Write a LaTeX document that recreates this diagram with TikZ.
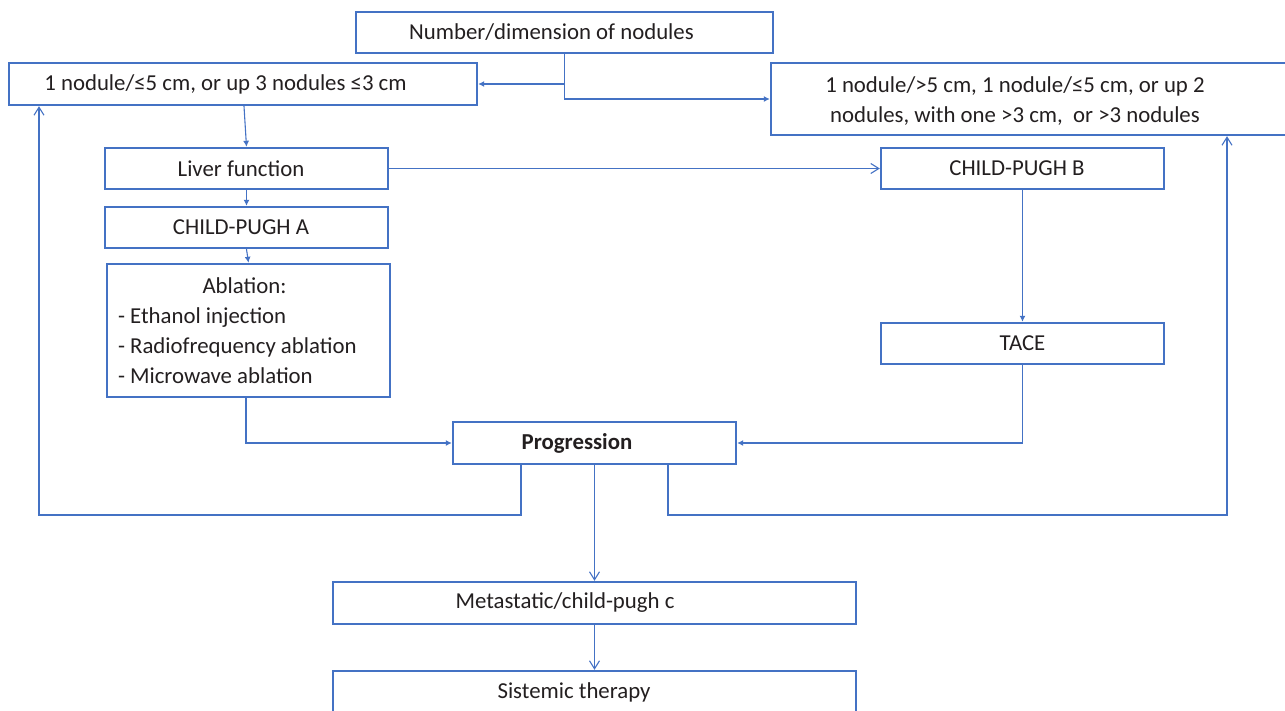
\documentclass[tikz,border=0pt]{standalone}
\usepackage{fontspec}
\setmainfont{Carlito}
\usetikzlibrary{arrows.meta}
\definecolor{bl}{HTML}{4472C4}
\definecolor{tx}{HTML}{231F20}
\begin{document}
\begin{tikzpicture}[x=1pt,y=-1pt,
  box/.style={draw=bl,line width=2.4pt,fill=white,inner sep=0pt,text=tx,
    font=\fontsize{22.8}{30}\selectfont},
  conn/.style={draw=bl,line width=1.1pt},
  fa/.style={conn,-{Latex[length=6pt,width=6pt]}},
  oa/.style={conn,-{Straight Barb[length=8pt,width=10pt]}}]
\useasboundingbox (0,0) rectangle (1285,710);
\clip (0,0) rectangle (1285,710);
\node[box,minimum width=417,minimum height=41] (top) at (564.5,32.5) {Number/dimension of nodules\hspace*{26pt}};
\node[box,minimum width=468,minimum height=42] (left1) at (243,84) {1 nodule/≤5 cm, or up 3 nodules ≤3 cm\hspace*{35pt}};
\node[box,minimum width=530,minimum height=72] (right1) at (1036,99) {};
\node[text=tx,align=center,font=\fontsize{22.8}{30}\selectfont] (r1t) at (1015,101) {1 nodule/>5 cm, 1 nodule/≤5 cm, or up 2\\nodules, with one >3 cm,\ \ or >3 nodules};
\node[box,minimum width=283,minimum height=41] (liver) at (246.5,168.5) {Liver function\hspace*{11pt}};
\node[box,minimum width=283,minimum height=41] (cpa) at (246.5,227.5) {CHILD-PUGH A\hspace*{11pt}};
\node[box,minimum width=283,minimum height=133,text width=261pt,align=left] (abl) at (248.5,330.5)
  {\spaceskip=0pt\xspaceskip=0pt\relax\makebox[253pt]{Ablation:}\\- Ethanol injection\\- Radiofrequency ablation\\- Microwave ablation};
\node[box,minimum width=283,minimum height=41] (cpb) at (1022.5,168.5) {CHILD-PUGH B\hspace*{11pt}};
\node[box,minimum width=283,minimum height=41] (tace) at (1022.5,343.5) {TACE};
\node[box,minimum width=283,minimum height=42] (prog) at (594.5,443) {\textbf{Progression}\hspace*{35pt}};
\node[box,minimum width=523,minimum height=42] (meta) at (594.5,603) {Metastatic/child-pugh c\hspace*{59pt}};
\node[box,minimum width=523,minimum height=42] (sis) at (594.5,692) {Sistemic therapy\hspace*{41pt}};
\coordinate (lloop) at (39,515);
\coordinate (rloop) at (1227,515);
\draw[fa] (top.south) |- (left1.east);
\draw[fa] (top.south) |- (right1.west);
\draw[fa] ([xshift=1pt]left1.south) -- (liver.north);
\draw[fa] (liver.south) -- (cpa.north);
\draw[fa] (cpa.south) -- (abl.north);
\draw[oa] (liver.east) -- (cpb.west);
\draw[fa] (cpb.south) -- (tace.north);
\draw[fa] ([xshift=-2.5pt]abl.south) |- (prog.west);
\draw[fa] (tace.south) |- (prog.east);
\draw[oa] ([xshift=-73.5pt]prog.south) |- (lloop) -- (lloop |- left1.south);
\draw[oa] ([xshift=73.5pt]prog.south) |- (rloop) -- (rloop |- right1.south);
\draw[oa] (prog.south) -- (meta.north);
\draw[oa] (meta.south) -- (sis.north);
\end{tikzpicture}
\end{document}
